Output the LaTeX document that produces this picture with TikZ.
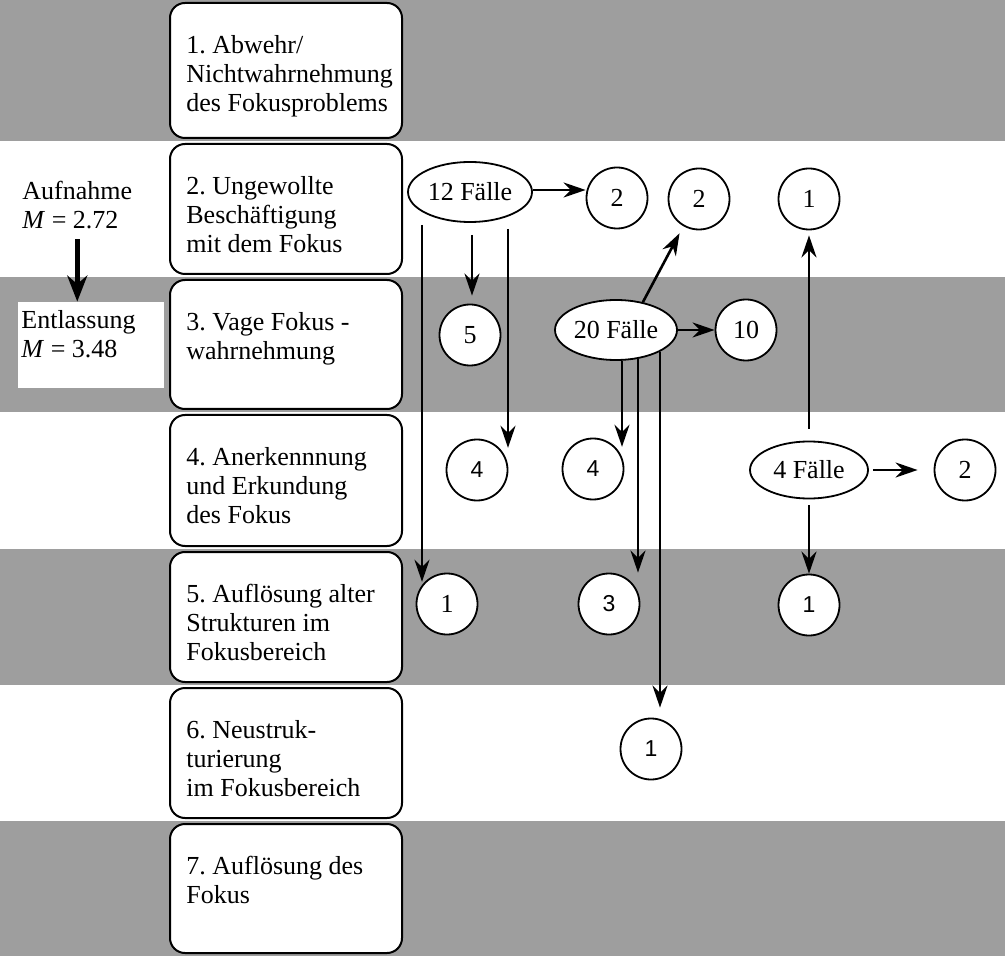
\documentclass[tikz,border=0pt]{standalone}
\usepackage{fontspec}
\setmainfont{Liberation Serif}
\newfontfamily\sansnum{Liberation Sans}
\usetikzlibrary{arrows.meta,calc,shapes.geometric}
\frenchspacing

\tikzset{
  band/.style={fill=black!38},
  stagebox/.style={draw, line width=1pt, rounded corners=7.5pt, fill=white, minimum width=116pt, inner sep=0pt},
  stagetext/.style={anchor=north west, align=left, inner sep=0pt, font=\fontsize{13}{14.5}\selectfont},
  cases/.style={draw, ellipse, line width=0.9pt, fill=white, inner sep=0pt, font=\fontsize{13}{14}\selectfont},
  num/.style={draw, circle, line width=0.9pt, fill=white, minimum size=30.5pt, inner sep=0pt, font=\fontsize{13}{14}\selectfont},
  snum/.style={num, font=\fontsize{11.5}{12}\sansnum},
  flow/.style={-{Stealth[length=11pt,width=7.5pt]}, line width=1.3pt},
}

\begin{document}
\begin{tikzpicture}[x=0.5pt, y=-0.5pt, line join=round]
\useasboundingbox (0,0) rectangle (1005,956);

% shaded stripes
\foreach \t/\b in {0/141, 277/412, 549/685, 821/956}
  \fill[band] (0,\t) rectangle (1005,\b);

% stage boxes
\foreach \t/\b [count=\i] in {0/141,141/277,277/412,412/549,549/685,685/821,821/956}
  \node[stagebox, minimum height={(\b-\t-6)*0.5pt}] (st\i) at (286,{(\t+\b)/2}) {};

\node[stagetext] (tx1) at ($(st1.north west)+(17,33)$) {1. Abwehr/\\Nichtwahrnehmung\\des Fokusproblems};
\node[stagetext] (tx2) at ($(st2.north west)+(17,33)$) {2. Ungewollte\\Beschäftigung\\mit dem Fokus};
\node[stagetext] (tx3) at ($(st3.north west)+(17,33)$) {3. Vage Fokus -\\wahrnehmung};
\node[stagetext] (tx4) at ($(st4.north west)+(17,33)$) {4. Anerkennnung\\und Erkundung\\des Fokus};
\node[stagetext] (tx5) at ($(st5.north west)+(17,33)$) {5. Auflösung alter\\Strukturen im\\Fokusbereich};
\node[stagetext] (tx6) at ($(st6.north west)+(17,33)$) {6. Neustruk-\\turierung\\im Fokusbereich};
\node[stagetext] (tx7) at ($(st7.north west)+(17,33)$) {7. Auflösung des\\Fokus};

% admission / discharge
\node[stagetext] (aufn) at (22,181) {Aufnahme\\\textit{M} = 2.72};
\node[fill=white, minimum width=73pt, minimum height=43pt, inner sep=0pt] (entl) at (91,345) {};
\node[stagetext] (entlt) at (21,310) {Entlassung\\\textit{M} = 3.48};
\draw[-{Stealth[length=13pt,width=10pt]}, line width=2.5pt] ($(aufn.south)+(0,10)$) -- (aufn.south |- entl.north);

% case groups
\node[cases, minimum width=62pt, minimum height=30pt] (f12) at (470,192) {12 Fälle};
\node[num] (c2a) at (617,198) {2};
\node[num] (c2b) at (699,199) {2};
\node[num] (c1c) at (809,199) {1};
\node[num] (c5) at (470,335) {5};
\node[cases, minimum width=61pt, minimum height=30pt] (f20) at (616,330) {20 Fälle};
\node[num] (c10) at (746,330) {10};
\node[snum] (c4a) at (477,470) {4};
\node[snum] (c4b) at (593,469) {4};
\node[cases, minimum width=59pt, minimum height=28.5pt] (f4) at (809,470) {4 Fälle};
\node[num] (c2d) at (965,470) {2};
\node[num] (c51) at (447,604) {1};
\node[snum] (c3) at (609,604) {3};
\node[snum] (c1d) at (809,605) {1};
\node[snum] (c61) at (651,749) {1};

% transitions
\draw[flow] ($(f12.east)+(0,-2)$) -- ($(f12.east -| c2a.west)+(0,-2)$);
\draw[flow] ($(f12.south)+(2,12)$) -- ($(c5.north)+(2,-8)$);
\draw[flow] ($(f12.south)+(-48,2)$) coordinate (l1) -- (l1 |- c51.north west);
\draw[flow] ($(f12.south)+(38,6)$) coordinate (l2) -- (l2 |- c4a.north east);

\draw[flow, shorten >=4pt] (f20.46) -- (c2b.240);
\draw[flow] (f20.east) -- (c10.west);
\draw[flow] ($(f20.south)+(6,0)$) coordinate (l3) -- (l3 |- c4b.north east);
\draw[flow] ($(f20.south)+(22,-2)$) coordinate (l4) -- (l4 |- c3.north);
\draw[flow] ($(f20.south)+(44,-9)$) coordinate (l5) -- ($(l5 |- c61.north)+(0,-10)$);

\draw[flow] ($(f4.north)+(0,-12)$) -- ($(c1c.south)+(0,5)$);
\draw[flow, shorten <=2pt, shorten >=8pt] (f4.east) -- (c2d.west);
\draw[flow] ($(f4.south)+(0,6)$) -- (c1d.north);
\end{tikzpicture}
\end{document}
